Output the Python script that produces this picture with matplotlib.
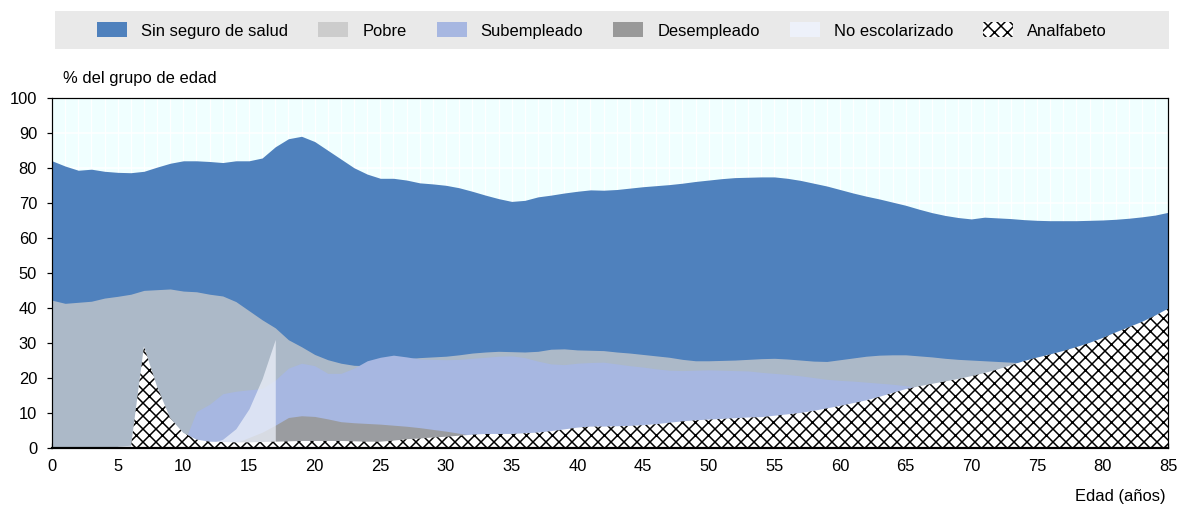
import numpy as np
import matplotlib
matplotlib.use('Agg')
import matplotlib.pyplot as plt
from matplotlib.patches import Patch, Rectangle
from matplotlib import font_manager

edad = np.arange(0, 86)

sin_seguro = [82, 80.5, 79.3, 79.6, 79, 78.7, 78.6, 79, 80.2, 81.3,
              82, 82, 81.8, 81.5, 82, 82, 82.8, 86, 88.3, 89,
              87.5, 85, 82.5, 80, 78.2, 77, 77, 76.5, 75.7, 75.4,
              75, 74.3, 73.3, 72.2, 71.2, 70.4, 70.7, 71.7, 72.2, 72.8,
              73.3, 73.7, 73.6, 73.8, 74.2, 74.6, 74.9, 75.2, 75.6, 76.1,
              76.5, 76.9, 77.2, 77.3, 77.4, 77.4, 77, 76.4, 75.6, 74.8,
              73.8, 72.8, 71.9, 71.1, 70.2, 69.3, 68.2, 67.2, 66.4, 65.8,
              65.4, 65.9, 65.7, 65.5, 65.2, 65, 64.9, 64.9, 64.9, 65,
              65.1, 65.3, 65.6, 66, 66.5, 67.3]

pobre = [42.2, 41.3, 41.6, 41.9, 42.8, 43.3, 43.9, 45, 45.2, 45.4,
         44.8, 44.6, 43.9, 43.4, 41.8, 39.2, 36.6, 34.3, 30.9, 28.9,
         26.7, 25.2, 24.2, 23.6, 23.5, 24, 24.6, 25.5, 25.8, 26,
         26.2, 26.6, 27.1, 27.4, 27.6, 27.5, 27.4, 27.6, 28.2, 28.3,
         28, 27.9, 27.8, 27.4, 27.1, 26.7, 26.3, 25.9, 25.3, 24.9,
         24.9, 25, 25.1, 25.3, 25.5, 25.6, 25.4, 25.1, 24.8, 24.7,
         25.2, 25.7, 26.2, 26.5, 26.6, 26.6, 26.3, 26, 25.6, 25.3,
         25.1, 24.9, 24.7, 24.5, 24.3, 24, 23.7, 23.4, 23.1, 22.8,
         22.5, 22.2, 21.9, 21.6, 21.3, 21]

subempleado = [0, 0, 0, 0, 0, 0, 0, 0, 0, 0,
               1, 10.4, 12.5, 15.5, 16.2, 16.6, 17, 19.4, 22.8, 24.2,
               23.5, 21.3, 21.3, 22.8, 24.9, 25.9, 26.5, 26, 25.4, 25.3,
               25.2, 25.3, 25.6, 25.9, 26.2, 26.3, 25.8, 24.8, 24, 23.8,
               24.2, 24.4, 24.5, 24, 23.5, 23.1, 22.6, 22.2, 22.1, 22.2,
               22.3, 22.2, 22.1, 22, 21.6, 21.3, 21, 20.6, 20.1, 19.6,
               19.3, 19.1, 18.8, 18.5, 18.2, 17.8, 17.3, 17, 16.5, 16,
               15.5, 15, 14.5, 14, 13.5, 13, 12.5, 12, 11.5, 11,
               10.5, 10, 9.5, 9, 8.5, 8]

desempleado = [0, 0, 0, 0, 0, 0, 0, 0, 0, 0,
               0, 0, 0.3, 0.8, 1.5, 3, 4.5, 6.5, 8.7, 9.2,
               9, 8.3, 7.5, 7.2, 7, 6.8, 6.5, 6.2, 5.8, 5.3,
               4.8, 4.2, 3.6, 3.2, 2.9, 2.7, 2.6, 2.5, 2.4, 2.3,
               2.2, 2.2, 2.1, 2.1, 2, 2, 1.9, 1.9, 1.8, 1.8,
               1.7, 1.7, 1.6, 1.6, 1.5, 1.5, 1.4, 1.4, 1.3, 1.3,
               1.2, 1.2, 1.1, 1.1, 1, 1, 0.9, 0.9, 0.8, 0.8,
               0.7, 0.7, 0.6, 0.6, 0.5, 0.5, 0.5, 0.4, 0.4, 0.4,
               0.3, 0.3, 0.3, 0.2, 0.2, 0.2]

# only school ages (5-17)
no_escolarizado = [np.nan] * 5 + [0.5, 0.8, 0.6, 0.5, 0.5,
                                  0.6, 1, 1.3, 2.5, 5.5, 11.2, 19.8, 31] + [np.nan] * 68

analfabeto = [0, 0, 0, 0, 0, 0, 0, 29, 17.5, 8.5,
              4.3, 2.4, 1.8, 1.7, 1.6, 1.6, 1.7, 1.8, 1.9, 2,
              2, 2, 2, 1.9, 1.8, 1.8, 2.1, 2.5, 2.7, 3,
              3.2, 3.5, 3.8, 4, 4, 4, 4.2, 4.4, 4.8, 5.3,
              5.8, 6.1, 6.1, 6.2, 6.3, 6.5, 6.8, 7.2, 7.6, 7.9,
              8.1, 8.3, 8.5, 8.7, 8.8, 9.2, 9.6, 10, 10.6, 11.3,
              12, 12.8, 13.6, 14.6, 15.7, 16.8, 17.6, 18.3, 19, 19.7,
              20.5, 21.4, 22.4, 23.6, 24.8, 25.8, 26.7, 27.7, 28.8, 30,
              31.4, 33, 34.5, 36, 37.8, 39.8]

etiquetas = ['Sin seguro de salud', 'Pobre', 'Subempleado', 'Desempleado',
             'No escolarizado', 'Analfabeto']

DPI = 78

try:
    font_manager.findfont('Liberation Sans Narrow', fallback_to_default=False)
    family = 'Liberation Sans Narrow'
    em_px = 18.9
    col_px = 37
except ValueError:
    family = 'Liberation Sans'
    em_px = 16.5
    col_px = 30

plt.rcParams['font.family'] = [family, 'DejaVu Sans']
plt.rcParams['hatch.linewidth'] = 1.4


def pt(px):
    return px * 72 / DPI


fs = pt(em_px)

fig = plt.figure(figsize=(1177.3 / DPI, 505.3 / DPI), dpi=DPI)
ax = fig.add_axes([52 / 1177, 57 / 505, 1116 / 1177, 350 / 505])
ax.set_facecolor('#F0FFFF')

ax.fill_between(edad, 0, sin_seguro, color='#4F81BD', lw=0, zorder=2)
ax.fill_between(edad, 0, pobre, color='#CCCCCC', alpha=0.75, lw=0, zorder=3)
ax.fill_between(edad, 0, subempleado, color='#A7B7E1', lw=0, zorder=4)
ax.fill_between(edad, 0, desempleado, color='#999999', alpha=0.9, lw=0, zorder=5)
ax.fill_between(edad, 0, no_escolarizado, color='#EDF1FA', alpha=0.75, lw=0, zorder=6)
ax.fill_between(edad, 0, analfabeto, facecolor='white', edgecolor='black',
                hatch='xx', lw=0, zorder=7)

ax.set_xlim(0, 85)
ax.set_ylim(0, 100)
ax.set_xticks(range(0, 86, 5))
ax.set_xticks(range(0, 86), minor=True)
ax.set_yticks(range(0, 101, 10))
ax.set_axisbelow(True)
ax.grid(which='both', axis='x', color='white', lw=pt(1.2))
ax.grid(which='major', axis='y', color='white', lw=pt(1.5))

ax.tick_params(axis='x', which='both', direction='in', length=pt(5),
               width=pt(1.2), pad=pt(11), labelsize=fs, colors='black')
ax.tick_params(axis='y', direction='out', length=pt(5), width=pt(1.2),
               pad=pt(10), labelsize=fs)
for s in ax.spines.values():
    s.set_color('black')
    s.set_linewidth(pt(1.2))
    s.set_zorder(10)
ax.spines['bottom'].set_linewidth(pt(2.2))

fig.text(63 / 1177, 1 - 83 / 505, '% del grupo de edad', ha='left',
         va='baseline', fontsize=fs)
fig.text(1165 / 1177, 1 - 496 / 505, 'Edad (años)', ha='right',
         va='center', fontsize=fs)

# grey legend band
fig.patches.append(Rectangle((55 / 1177, 1 - 49 / 505), 1114 / 1177, 38 / 505,
                             transform=fig.transFigure, facecolor='#E9E9E9',
                             edgecolor='none', zorder=0))
handles = [Patch(facecolor='#4F81BD', lw=0),
           Patch(facecolor='#CCCCCC', lw=0),
           Patch(facecolor='#A7B7E1', lw=0),
           Patch(facecolor='#999999', lw=0),
           Patch(facecolor='#EDF1FA', lw=0),
           Patch(facecolor='white', edgecolor='black', hatch='xx', lw=0)]
hh = (15 / em_px - 0.245) / 0.65
fig.legend(handles, etiquetas, loc='center', ncol=6, frameon=False,
           bbox_to_anchor=(602 / 1177, 1 - 30.5 / 505), fontsize=fs,
           handlelength=30 / em_px, handleheight=hh,
           handletextpad=14 / em_px, columnspacing=col_px / em_px,
           borderpad=0, borderaxespad=0)

fig.savefig('out.png', dpi=DPI)
